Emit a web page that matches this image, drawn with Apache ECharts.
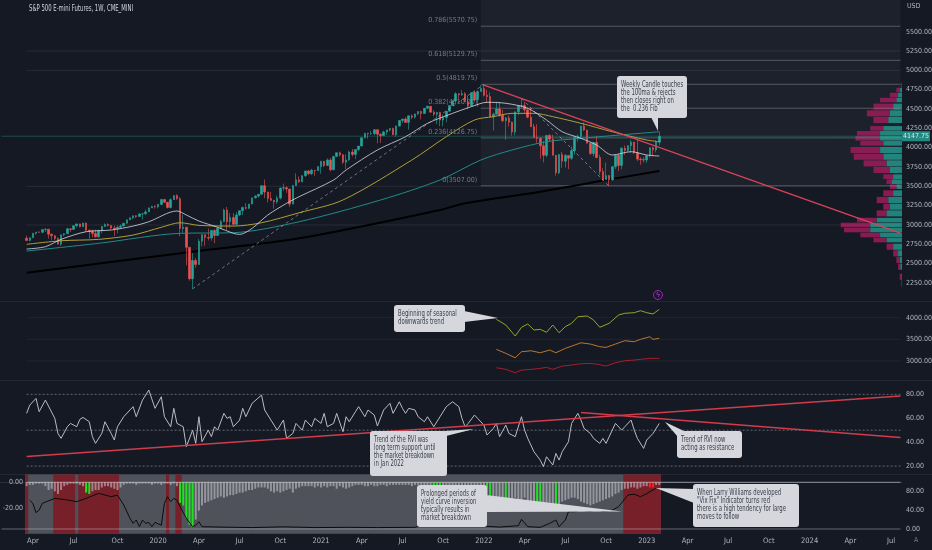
<!DOCTYPE html>
<html><head><meta charset="utf-8">
<script src="https://cdn.jsdelivr.net/npm/echarts@6/dist/echarts.min.js"></script>
<style>html,body{margin:0;padding:0;background:#151924;}#c{width:932px;height:550px;}</style>
</head><body><div id="c"></div>
<script>
// ---------------- DATA ----------------
const START_MONDAY = '2019-01-21';
const N_WEEKS = 288;
const FIRST_BAR = 8;           // week index of first candle (2019-03-18)
const FIRST_OPEN = 2830;
const MONTH_LABELS = {'04':'Apr','07':'Jul','10':'Oct'};

const closes = [
2800,2834,2893,2907,2905,2940,2946,2881,2860,2826,2752,2873,2887,2950,2942,2990,3014,2977,3026,2932,2919,2889,2847,2926,2979,3007,2992,2962,2952,2970,2986,3023,3067,3093,3120,3110,3141,3146,3169,3221,3240,
3235,3265,3330,3295,3226,3328,3380,3338,2954,2972,2711,2305,2541,2489,2790,2875,2837,2831,2930,2864,2955,3044,3194,3041,3098,3009,3130,3185,3225,3216,3271,3351,3373,3397,3508,3427,3341,3319,3298,3348,3477,3483,3465,3270,3509,3585,3558,3638,3699,3663,3709,3703,3756,
3825,3768,3841,3714,3887,3934,3907,3811,3842,3943,3913,3975,4020,4129,4185,4180,4181,4233,4174,4156,4204,4230,4247,4166,4281,4352,4370,4327,4412,4395,4437,4468,4442,4509,4535,4459,4433,4455,4357,4391,4471,4545,4605,4697,4683,4698,4595,4538,4712,4620,4725,4766,
4677,4662,4398,4432,4500,4418,4349,4385,4329,4204,4463,4543,4546,4488,4393,4272,4132,4123,4024,3901,4158,4109,3901,3675,3912,3825,3899,3863,3962,4130,4145,4280,4228,4058,3924,4067,3873,3693,3586,3639,3583,3753,3901,3771,3993,3965,4026,4072,3934,3852,3845,3840,
3895,3999,3973,4071,4147.75];
const highs = [
2862,2838,2895,2910,2918,2942,2955,2915,2892,2872,2840,2876,2895,2964,2958,2996,3017,3018,3028,3028,2943,2943,2939,2940,2985,3021,3022,3002,2993,2993,3008,3028,3069,3098,3122,3127,3155,3146,3198,3227,3249,
3259,3275,3332,3338,3285,3347,3385,3397,3360,3136,2882,2553,2637,2571,2818,2880,2870,2954,2935,2945,2980,3068,3212,3233,3155,3155,3165,3186,3238,3280,3272,3352,3387,3399,3509,3588,3425,3428,3306,3380,3482,3535,3501,3465,3521,3668,3628,3644,3701,3712,3726,3711,3760,
3826,3820,3861,3870,3888,3937,3950,3920,3915,3960,3983,3978,4021,4130,4191,4194,4218,4238,4233,4186,4220,4233,4249,4258,4286,4355,4372,4393,4415,4430,4440,4471,4480,4513,4546,4540,4486,4465,4465,4429,4476,4552,4608,4718,4707,4743,4718,4671,4713,4731,4740,4808,
4818,4749,4717,4453,4595,4588,4489,4397,4416,4338,4466,4546,4637,4593,4520,4513,4308,4303,4131,4090,4160,4177,4168,3880,3914,3946,3919,3891,4014,4144,4170,4281,4326,4231,4062,4077,4152,3908,3733,3807,3645,3764,3905,3921,4006,4028,4035,4100,4052,4101,3877,3878,
3902,4003,4015,4094,4208];
const lows = [
2790,2786,2838,2875,2900,2895,2910,2825,2801,2805,2750,2729,2855,2881,2910,2945,2968,2970,2975,2914,2822,2840,2834,2837,2891,2975,2980,2945,2855,2892,2960,2985,3015,3065,3076,3091,3110,3070,3127,3170,3220,
3212,3215,3264,3281,3214,3215,3334,3327,2855,2900,2478,2280,2174,2447,2500,2725,2730,2800,2797,2766,2897,2960,3040,2936,2965,2999,3000,3115,3127,3200,3205,3270,3340,3355,3392,3349,3293,3311,3209,3275,3330,3440,3416,3233,3270,3511,3543,3555,3622,3645,3647,3636,3701,
3662,3749,3775,3694,3725,3884,3885,3789,3723,3830,3886,3853,3955,4020,4119,4118,4165,4160,4057,4062,4150,4167,4207,4164,4144,4271,4320,4321,4233,4368,4375,4420,4367,4443,4500,4455,4405,4305,4278,4278,4330,4465,4547,4595,4630,4672,4586,4495,4536,4600,4531,4724,
4662,4582,4395,4222,4431,4401,4328,4101,4271,4157,4161,4424,4506,4450,4381,4267,4124,4062,3858,3810,3875,4073,3898,3639,3657,3740,3742,3722,3840,3910,4079,4112,4218,4057,3906,3886,3862,3648,3571,3596,3502,3577,3722,3699,3720,3907,3943,3937,3917,3828,3777,3806,
3803,3873,3886,3938,4028];

// moving averages: [week index, price]
const ma20 = [[8,2689],[14,2719],[19,2814],[27,2913],[35,2935],[42,2986],[47,3042],[56,3181],[59,3129],[63,3051],[69,2970],[74,2892],[76,2879],[80,2957],[85,3129],[91,3280],[95,3366],[106,3581],[110,3711],[120,3970],[129,4142],[136,4315],[144,4444],[150,4530],[155,4587],[161,4574],[168,4509],[174,4358],[179,4206],[185,4121],[190,4034],[195,3905],[201,3948],[206,3905],[210,3892]];
const ma50 = [[8,2750],[19,2796],[31,2814],[42,2870],[51,2970],[57,3029],[63,2995],[74,2986],[83,3029],[95,3158],[109,3323],[131,3840],[142,4142],[151,4358],[157,4401],[163,4444],[170,4444],[176,4401],[185,4315],[195,4206],[206,4099],[210,4077]];
const ma100 = [[8,2663],[31,2763],[57,2892],[74,2900],[95,3042],[121,3323],[140,3582],[153,3840],[163,3970],[174,4077],[185,4121],[210,4206]];
const ma200 = [[8,2383],[61,2654],[95,2827],[140,3193],[148,3280],[172,3430],[193,3581],[210,3698]];

const fibLevels = [0, 0.236, 0.382, 0.5, 0.618, 0.786];
const fibPrices = [3507.00, 4126.75, 4510.00, 4819.75, 5129.75, 5570.75];
const FIB_START = 153;
const userLines = [5250, 5000, 3500, 3000];
const LAST_PRICE = 4147.75;
const mainTrend = [[154,4808],[287,2896]];
const dashUp = [[61,2174],[154,4818]];
const dashDown = [[166,4637],[194,3502]];
const priceTicks = [2250,2500,2750,3000,3250,3500,3750,4000,4250,4500,4750,5000,5250,5500];

// visible range volume profile rows
const profPrice = [4810,4745,4680,4616,4530,4444,4358,4250,4186,4121,4056,3970,3883,3797,3711,3625,3560,3495,3410,3323,3236,3150,3064,3000,2935,2870,2805,2719,2633,2546,2460,2330,2245];
const profTotal = [1.3,5.7,12.3,22.3,29,35.7,29,32.3,45.7,47.3,42.3,52.3,49,39,29,19,15.7,12.3,19,25.7,19,25.7,45.7,62.3,59,42.3,29,15.7,9,5.7,4,2.3,0.7];
const profUp = [0.3,2.3,4,5.7,9,12.3,14,19,22.3,22.3,19,22.3,19,15.7,12.3,9,10.7,5.7,9,14,12.3,15.7,25.7,32.3,32.3,22.3,15.7,9,4,2.3,1.7,0.7,0.3];

// seasonal pane
const seasonGreen = [[158,3963],[161,3831],[164,3576],[166,3778],[168,3854],[170,3715],[172,3731],[174,3662],[176,3831],[178,3653],[180,3792],[182,3870],[184,4023],[187,4039],[189,3947],[191,3778],[194,3870],[197,4062],[199,4102],[202,4116],[204,4162],[206,4116],[208,4086],[210,4194]];
const seasonOrange = [[158,3268],[161,3176],[164,3074],[166,3213],[169,3236],[172,3190],[175,3252],[177,3190],[180,3291],[183,3368],[185,3421],[188,3391],[191,3329],[193,3314],[196,3391],[199,3468],[202,3445],[204,3500],[207,3560],[208,3500],[210,3523]];
const seasonRed = [[158,2843],[161,2806],[164,2727],[166,2789],[169,2806],[172,2829],[174,2852],[176,2806],[179,2882],[182,2905],[184,2928],[187,2944],[190,2928],[193,2882],[196,2959],[199,3005],[202,3021],[204,3037],[207,3060],[210,3060]];
const seasonTicks = [3000,3500,4000];

// RVI pane
const rvi = [[8,64.1],[9,71.0],[11,76.6],[12,65.5],[14,75.2],[17,59.9],[18,47.3],[19,43.2],[21,52.9],[22,55.7],[24,52.9],[25,59.1],[26,60.7],[28,57.1],[29,44.6],[30,39.0],[32,47.3],[33,57.1],[35,47.3],[36,41.8],[37,52.9],[39,61.3],[42,69.7],[43,61.3],[45,75.2],[47,83.6],[49,68.3],[51,78.0],[52,61.3],[54,52.9],[55,68.3],[56,55.7],[58,52.9],[59,36.2],[61,50.1],[62,39.0],[63,61.3],[64,40.4],[66,50.1],[67,44.6],[68,52.9],[69,50.1],[71,64.1],[72,59.9],[73,61.3],[74,52.9],[76,58.5],[77,68.3],[78,61.3],[80,72.5],[83,79.4],[84,66.9],[86,58.5],[88,50.1],[90,58.5],[91,43.2],[93,47.3],[94,55.7],[96,50.1],[97,58.5],[99,52.9],[100,59.9],[102,55.7],[103,64.1],[104,52.9],[106,55.7],[107,64.1],[109,48.7],[110,61.3],[111,57.1],[113,65.5],[114,69.7],[116,61.3],[117,66.9],[119,62.7],[120,53.5],[122,66.9],[124,72.5],[125,64.1],[127,73.8],[128,68.3],[129,64.1],[130,68.3],[132,66.9],[133,61.3],[135,57.1],[136,61.3],[138,52.9],[140,61.3],[142,69.7],[144,73.8],[146,69.7],[147,59.9],[148,52.9],[149,55.7],[151,62.7],[152,59.9],[154,54.3],[155,46.0],[157,51.5],[158,55.7],[159,44.6],[161,54.3],[162,47.3],[164,44.6],[166,61.3],[167,50.1],[168,43.2],[170,32.0],[172,25.0],[173,19.5],[174,27.8],[176,20.9],[177,30.6],[178,25.0],[179,32.0],[181,40.4],[182,55.7],[184,64.1],[185,58.5],[186,51.5],[188,47.3],[189,43.2],[191,39.0],[192,43.2],[193,39.0],[195,50.1],[196,55.7],[198,50.1],[199,52.9],[201,58.5],[202,50.1],[203,43.2],[205,34.8],[206,41.8],[208,47.3],[210,55.7]];
const rviSupport = [[8,28.1],[287,78.6]];
const rviResist = [[185,64.9],[287,44.0]];
const rviLevels = [80,50,20];
const rviTicks = [20,40,60,80];

// Vix Fix pane
const vixHist = [
-3,-2,-2,-1,-1,-1,-3,-6,-5,
-7,-9,-6,-3,-2,-1,-1,
-1,-2,-3,
-8,-9,
-7,-6,-6,-4,-3,-3,-4,-5,-6,
-4,-2,-1,
-1,-1,-2,-1,-1,-1,-1,-2,-1,-1,-2,-1,
-1,-2,-1,-3,
-16,-18,-28,-33,-35,
-29,-22,-18,-16,-15,-14,-13,-12,-11,-12,-11,-10,-10,-9,-8,-8,-7,-6,-6,-5,-4,-4,-4,-5,
-7,-8,-7,-8,-7,-6,-5,-8,-5,-4,-3,-3,-3,-3,-4,-3,-4,-3,-4,-3,-3,-5,
-3,-4,-5,-4,-3,-2,-2,-2,-3,-3,-2,-3,-3,-2,-2,-3,-2,-2,-2,-2,-2,-2,-2,-3,-2,-2,-2,-3,-3,-2,
-4,-5,-4,-4,-6,-7,-8,-9,-8,-9,-10,-9,-8,-10,-9,-8,-7,
-10,-11,-12,-13,-12,-14,-15,-16,-13,-12,-13,-14,-12,-15,-16,-17,
-19,-20,-18,-17,-16,-18,-20,-17,-15,-14,-13,-12,-12,-13,-15,-16,-17,-18,-17,-16,
-15,-14,-13,-12,-11,-9,-8,-6,-5,-5,-4,-4,-5,-4,-3,-3,-4,-4,-2,-2];
const vixGreen = [27,28,57,58,59,60,61,138,139,140,155,156,161,171,172,177];
const vixRed = [207,208];
const vixLine = [[9,61],[10,54.5],[11,34.6],[12,40],[13,54.5],[17,65],[21,61.6],[24,58],[27,65],[31,75.8],[35,68.6],[37,72],[39,51],[41,22.7],[42,12],[43,19],[44,4.9],[45,19],[46,12],[47,14],[48,4.9],[49,14],[51,8],[52,54.5],[53,68.6],[54,58],[55,65],[56,61],[57,47.3],[59,22.7],[61,4.9],[62,8],[63,15.5],[64,4.9],[70,4],[80,3],[90,4.5],[100,3],[110,3.5],[120,3],[132,3.5],[134,7],[140,9],[146,8],[152,7],[159,4],[165,7],[166,20.5],[168,4.9],[172,3.5],[175,12],[177,19],[178,4.9],[180,19],[181,36.8],[183,36.8],[185,40],[188,36.8],[190,42],[192,36.8],[195,40],[197,47.3],[200,72.2],[202,73.9],[204,68.6],[206,75],[207,79.2],[209,86.4]];
// background zones [startWeek, endWeek, kind] kind 0 = grey, 1 = red
const vixZones = [[8,210,0],[8,8,1],[17,23,1],[25,37,1],[53,53,1],[56,57,1],[199,210,1]];
const vixLeftTicks = [0,-20];
const vixRightTicks = [0,40,80];

// ---------------- BUILD ----------------
const categories = [];
{ const d0 = Date.parse(START_MONDAY + 'T00:00:00Z');
  for (let i = 0; i < N_WEEKS; i++) categories.push(new Date(d0 + i*7*86400000).toISOString().slice(0,10)); }
const LAST = N_WEEKS - 1;

const FONT = "'Liberation Sans Narrow','DejaVu Sans Condensed',Roboto,sans-serif";
const AX = '#b2b5be';
const UP = '#26a69a', DOWN = '#ef5350';

const candleData = closes.map((c,i)=>{
  const o = i === 0 ? FIRST_OPEN : closes[i-1];
  return [FIRST_BAR+i, o, c, Math.min(lows[i],o,c), Math.max(highs[i],o,c)];
});

const chart = echarts.init(document.getElementById('c'), null, {renderer:'canvas'});

const gridBase = {left:0, right:30, containLabel:false, outerBoundsMode:'none'};
const grids = [
  Object.assign({top:0, height:302.3}, gridBase),
  Object.assign({top:301, height:81.6}, gridBase),
  Object.assign({top:380, height:110}, gridBase),
  Object.assign({top:474.6, height:59.1}, gridBase),
  {left:840, right:30, top:0, height:302.3, containLabel:false, outerBoundsMode:'none'}
];
const catAxis = (g, show) => ({
  type:'category', gridIndex:g, data:categories, boundaryGap:true,
  axisLine:{show:show, lineStyle:{color:'#2a2e39'}}, axisTick:{show:false}, splitLine:{show:false},
  axisLabel: show ? {
    show:true, color:AX, fontSize:7.5, fontFamily:FONT, margin:3,
    interval:(i,v)=> +v.slice(8,10) <= 7 && ['01','04','07','10'].includes(v.slice(5,7)),
    formatter:(v)=> v.slice(5,7) === '01' ? v.slice(0,4) : MONTH_LABELS[v.slice(5,7)]
  } : {show:false}
});
const valAxis = (g, pos, min, max, interval, ticks, extra) => Object.assign({
  type:'value', gridIndex:g, position:pos, min:min, max:max, interval:interval,
  axisLine:{show:false}, axisTick:{show:false}, splitLine:{show:false},
  axisLabel:{show:true, color:AX, fontSize:7, fontFamily:FONT, margin:4,
    formatter:(v)=> ticks.includes(v) ? v.toFixed(2) : ''}
}, extra || {});

const xAxes = [catAxis(0,false), catAxis(1,false), catAxis(2,false), catAxis(3,true), catAxis(3,false),
  {type:'value', gridIndex:4, inverse:true, min:0, max:63, show:false}];
const yAxes = [
  valAxis(0,'right',2000,5910,250,priceTicks),
  valAxis(1,'right',2500,4386,500,seasonTicks),
  valAxis(2,'right',0,92,20,rviTicks),
  valAxis(3,'left',-40,6,20,vixLeftTicks,{axisLabel:{show:true,inside:true,align:'right',margin:23,color:AX,fontSize:7,fontFamily:FONT,formatter:(v)=>vixLeftTicks.includes(v)?v.toFixed(2):''}}),
  valAxis(3,'right',-10,115.5,10,vixRightTicks),
  {type:'value', gridIndex:3, min:0, max:1, show:false},
  {type:'value', gridIndex:4, min:2000, max:5910, show:false}
];

const series = [];
const seg = (pts, color, width, type, xi, yi, z) => ({
  type:'line', xAxisIndex:xi, yAxisIndex:yi, data:pts, symbol:'none', silent:true, z:z||3,
  lineStyle:{color:color, width:width, type:type||'solid'}, animation:false
});

// text labels tied to data points (scatter, invisible symbol)
const labelSeries = (items, yi) => ({
  type:'scatter', xAxisIndex:0, yAxisIndex:yi, symbol:'circle', symbolSize:1, silent:true, z:8, animation:false,
  itemStyle:{color:'rgba(0,0,0,0)'}, data:items
});

// volume profile
const profData = profPrice.map((p,i)=>{
  const up = i>0 ? profPrice[i-1]-p : profPrice[i]-profPrice[i+1];
  const dn = i<profPrice.length-1 ? p-profPrice[i+1] : up;
  return [p, profTotal[i], profUp[i], Math.min(up,dn)*0.46];
});
series.push({
  type:'custom', xAxisIndex:5, yAxisIndex:6, data:profData, encode:{x:1, y:0}, z:1, silent:true,
  renderItem:(params, api)=>{
    const p = api.value(0), tot = api.value(1), up = api.value(2), hh = api.value(3);
    const a = api.coord([0, p+hh]), b = api.coord([up, p-hh]), c = api.coord([tot, p-hh]);
    return {type:'group', children:[
      {type:'rect', shape:{x:b[0], y:a[1], width:a[0]-b[0], height:b[1]-a[1]}, style:{fill:'rgba(38,166,154,0.75)'}},
      {type:'rect', shape:{x:c[0], y:a[1], width:b[0]-c[0], height:b[1]-a[1]}, style:{fill:'rgba(165,28,92,0.8)'}}
    ]};
  }
});

// candles
series.push({
  type:'candlestick', xAxisIndex:0, yAxisIndex:0, data:candleData, encode:{x:0, y:[1,2,3,4]},
  barWidth:2, z:4, silent:true, animation:false,
  itemStyle:{color:UP, color0:DOWN, borderColor:UP, borderColor0:DOWN, borderWidth:0.6},
  markArea:{silent:true, itemStyle:{color:'rgba(255,255,255,0.035)'},
    data:[[{coord:[FIB_START, fibPrices[0]]},{coord:[LAST, 5910]}]]}
});
// user horizontal lines
userLines.forEach(v=> series.push(seg([[FIRST_BAR, v],[LAST, v]], 'rgba(255,255,255,0.08)', 1, 'solid', 0, 0, 2)));
// fib lines
fibPrices.forEach(p=> series.push(seg([[FIB_START,p],[LAST,p]], 'rgba(150,155,165,0.45)', 1, 'solid', 0, 0, 2)));
series.push(labelSeries(fibPrices.map((p,i)=>({value:[FIB_START,p],
  label:{show:true, position:'left', distance:3, offset:[0,-6], color:'#8f929c', fontSize:7, fontFamily:FONT,
    formatter: fibLevels[i] + '(' + p.toFixed(2) + ')'}})), 0));
// last price line with tag
series.push(seg([[0,LAST_PRICE],[LAST,LAST_PRICE]], 'rgba(38,166,154,0.35)', 1, 'solid', 0, 0, 2));
series.push(labelSeries([{value:[LAST,LAST_PRICE], label:{show:true, position:'right', distance:1,
  formatter: LAST_PRICE.toFixed(2), color:'#fff', backgroundColor:UP, padding:[2,1,1,1], fontSize:7, fontFamily:FONT}}], 0));
// moving averages
series.push(Object.assign(seg(ma200, '#000000', 2, 'solid', 0, 0, 3), {smooth:0.3}));
series.push(Object.assign(seg(ma100, '#1f8b88', 1, 'solid', 0, 0, 5), {smooth:0.3}));
series.push(Object.assign(seg(ma50, '#b09f36', 1, 'solid', 0, 0, 5), {smooth:0.3}));
series.push(Object.assign(seg(ma20, 'rgba(215,218,226,0.8)', 1, 'solid', 0, 0, 5), {smooth:0.3}));
// drawings
series.push(seg(dashUp, 'rgba(190,190,200,0.55)', 1, [3,3], 0, 0, 6));
series.push(seg(dashDown, 'rgba(190,190,200,0.55)', 1, [3,3], 0, 0, 6));
series.push(seg(mainTrend, '#d8435a', 1.3, 'solid', 0, 0, 6));

// seasonal pane
seasonTicks.forEach(v=> series.push(seg([[FIRST_BAR,v],[LAST,v]], 'rgba(255,255,255,0.05)', 1, 'solid', 1, 1, 1)));
series.push(seg(seasonGreen, '#95a332', 1, 'solid', 1, 1));
series.push(seg(seasonOrange, '#b8772f', 1, 'solid', 1, 1));
series.push(seg(seasonRed, '#a51f2c', 1, 'solid', 1, 1));

// RVI pane
rviLevels.forEach(v=> series.push(seg([[FIRST_BAR,v],[LAST,v]], 'rgba(150,153,162,0.6)', 1, [2,2], 2, 2, 1)));
series.push(seg(rvi, '#b9bcc5', 1, 'solid', 2, 2));
series.push(seg(rviSupport, '#d13c4b', 1.5, 'solid', 2, 2, 4));
series.push(seg(rviResist, '#d13c4b', 1.5, 'solid', 2, 2, 4));

// Vix Fix pane
series.push({
  type:'custom', xAxisIndex:4, yAxisIndex:5, data:vixZones, encode:{x:[0,1]}, z:1, silent:true,
  renderItem:(params, api)=>{
    const s = api.coord([api.value(0), 1]), e = api.coord([api.value(1), 0]);
    const bw = api.size([1,0])[0];
    return {type:'rect', shape:{x:s[0]-bw/2, y:s[1], width:e[0]-s[0]+bw, height:e[1]-s[1]},
      style:{fill: api.value(2) === 1 ? '#78202a' : 'rgba(255,255,255,0.25)'}};
  }
});
series.push({
  type:'bar', xAxisIndex:3, yAxisIndex:3, barWidth:2, z:2, silent:true, animation:false,
  data: vixHist.map((v,i)=>{ const idx = FIRST_BAR+i;
    const col = vixRed.includes(idx) ? '#ff1f1f' : vixGreen.includes(idx) ? '#22e022' : 'rgba(205,205,212,0.55)';
    return {value:[idx, v], itemStyle:{color:col}}; })
});
series.push(seg([[FIRST_BAR,0],[LAST,0]], 'rgba(215,215,222,0.6)', 1, 'solid', 3, 3, 3));
series.push(seg([[0,0],[LAST,0]], 'rgba(200,200,210,0.45)', 1, 'solid', 3, 4, 3));
series.push(seg(vixLine, '#0b0b0b', 1, 'solid', 3, 4, 4));

// ---------------- ANNOTATIONS ----------------
const BOX = '#d5d7dc', TXT = '#3a3d4a';
const SQ = 0.74; // horizontal squeeze to mimic the narrow chart font
function callout(x, y, w, h, lines, ptr){
  return [
    {type:'polygon', shape:{points:ptr}, style:{fill:BOX}, z:100},
    {type:'rect', shape:{x:x, y:y, width:w, height:h, r:3}, style:{fill:BOX}, z:100},
    {type:'text', x:x+4, y:y+5, scaleX:SQ, z:101, style:{text:lines.join('\n'), fill:TXT, font:'8px ' + FONT, lineHeight:8, textVerticalAlign:'top'}}
  ];
}
const graphics = [].concat(
  [{type:'line', shape:{x1:0,y1:301.5,x2:932,y2:301.5}, style:{stroke:'#232734', lineWidth:1}, z:0},
   {type:'line', shape:{x1:0,y1:380.5,x2:932,y2:380.5}, style:{stroke:'#232734', lineWidth:1}, z:0},
   {type:'line', shape:{x1:0,y1:474.5,x2:932,y2:474.5}, style:{stroke:'#232734', lineWidth:1}, z:0},
   {type:'text', x:29, y:5, scaleX:SQ, style:{text:'S&P 500 E-mini Futures, 1W, CME_MINI', fill:'#d1d4dc', font:'8px ' + FONT}, z:50},
   {type:'text', x:907, y:3, style:{text:'USD', fill:AX, font:'7px ' + FONT}, z:50},
   {type:'text', x:914, y:537, style:{text:'A', fill:'#787b86', font:'7px ' + FONT}, z:50},
   {type:'circle', shape:{cx:658, cy:295, r:4.5}, style:{fill:'#1d1530', stroke:'#9c27b0', lineWidth:1}, z:50},
   {type:'text', x:658, y:295, style:{text:'ϟ', fill:'#b04bd0', font:'7px DejaVu Sans', textAlign:'center', textVerticalAlign:'middle'}, z:51}],
  callout(617, 76, 70, 42, ['Weekly Candle touches','the 100ma & rejects','then closes right on','the  0.236 Fib'], [[651,117],[658,117],[658,131]]),
  callout(394, 305, 71, 27, ['Beginning of seasonal','downwards trend'], [[464,311],[464,322],[498,318]]),
  callout(370, 431, 77, 45, ['Trend of the RVI was','long term support until','the market breakdown','in Jan 2022'], [[430,432],[446,436],[474,429]]),
  callout(677, 431, 65, 27, ['Trend of RVI now','acting as resistance'], [[678,437],[686,432],[665,422]]),
  callout(417, 485, 70, 42, ['Prolonged periods of','yield curve inversion','typically results in','market breakdown'], [[486,495],[622,511.5],[486,512]]),
  callout(693, 484, 106, 43, ['When Larry Williams developed','"Vix Fix" Indicator turns red','there is a high tendency for large','moves to follow'], [[694,489],[694,503],[656,488]])
);

chart.setOption({
  backgroundColor:'#151924', animation:false,
  grid:grids, xAxis:xAxes, yAxis:yAxes, series:series, graphic:graphics
});
</script></body></html>
